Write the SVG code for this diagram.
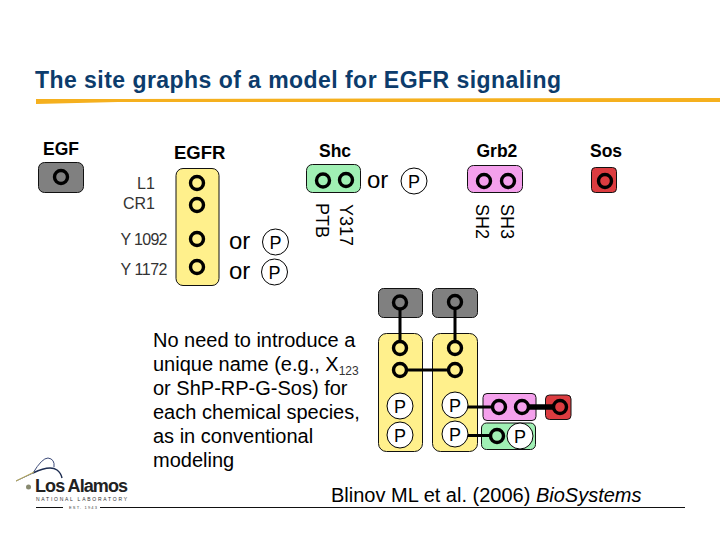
<svg xmlns="http://www.w3.org/2000/svg" width="720" height="540" viewBox="0 0 720 540">
<style>
text{font-family:"Liberation Sans",Arial,sans-serif;fill:#000}
.b{font-weight:bold;font-size:17.500px}
.l{font-size:16px;fill:#333}
.v{font-size:18px;fill:#000}
.or{font-size:24px}
.p{font-size:18px;text-anchor:middle}
.box{stroke:#111;stroke-width:1}
.y{fill:#fff08c}.g{fill:#808080}.gr{fill:#a0f0b4}.pk{fill:#f4a0ec}.r{fill:#dc3c40}
.s{fill:none;stroke:#000;stroke-width:3.400}
.pc{fill:#fff;stroke:#000;stroke-width:1}
.t{font-size:20px}
.c{stroke:#000;stroke-width:3;fill:none}
</style>
<defs>
<g id="p"><circle class="pc" r="13"/><text class="p" y="6.500">P</text></g>
</defs>
<g id="title">
<text x="35" y="88" font-weight="bold" font-size="23" style="fill:#0c3c6c" textLength="526">The site graphs of a model for EGFR signaling</text>
<path d="M36 99H118L720 98V102H118L36 104Z" fill="#f5b01e"/>
</g>
<g id="EGF"><text class="b" x="43" y="155">EGF</text><rect class="box g" x="38.500" y="162.500" width="45" height="30" rx="6"/><circle class="s" cx="61" cy="177" r="6.500"/></g>
<g id="EGFR"><text class="b" x="174" y="158.500" style="font-size:18.500px">EGFR</text><rect class="box y" x="176" y="168.500" width="43" height="117" rx="7"/>
<circle class="s" cx="197" cy="183" r="6.500"/><circle class="s" cx="197" cy="205" r="6.500"/><circle class="s" cx="197" cy="239" r="6.500"/><circle class="s" cx="197" cy="267" r="6.500"/>
<text class="l" x="137" y="189">L1</text><text class="l" x="123" y="209">CR1</text><text class="l" x="120.500" y="245" textLength="47">Y 1092</text><text class="l" x="120.500" y="275" textLength="47">Y 1172</text>
<text class="or" x="229" y="249">or</text><text class="or" x="229" y="279">or</text>
<use href="#p" x="275.500" y="242"/><use href="#p" x="274.500" y="272"/></g>
<g id="Shc"><text class="b" x="319" y="157">Shc</text><rect class="box gr" x="306.500" y="164.500" width="54" height="28" rx="6"/><circle class="s" cx="323" cy="180.500" r="6.500"/><circle class="s" cx="346" cy="180" r="6.500"/>
<text class="v" transform="translate(315.500 203) rotate(90)">PTB</text><text class="v" transform="translate(340 204) rotate(90)">Y317</text>
<text class="or" x="367" y="188">or</text><use href="#p" x="414" y="181"/></g>
<g id="Grb2"><text class="b" x="476.500" y="157">Grb2</text><rect class="box pk" x="467.500" y="165.500" width="55" height="27" rx="6"/><circle class="s" cx="484" cy="181" r="6.500"/><circle class="s" cx="508" cy="181" r="6.500"/>
<text class="v" transform="translate(475.500 204) rotate(90)">SH2</text><text class="v" transform="translate(501 204) rotate(90)">SH3</text></g>
<g id="Sos"><text class="b" x="590" y="157">Sos</text><rect class="box r" x="591.500" y="167.500" width="25" height="25" rx="4"/><circle class="s" cx="605" cy="181" r="6.500"/></g>
<g id="note"><text class="t" x="153" y="347">No need to introduce a</text><text class="t" x="153" y="371">unique name (e.g., X<tspan font-size="12" dy="4" style="fill:#333">123</tspan></text><text class="t" x="153" y="395">or ShP-RP-G-Sos) for</text><text class="t" x="153" y="419">each chemical species,</text><text class="t" x="153" y="443">as in conventional</text><text class="t" x="153" y="467">modeling</text></g>
<g id="complex-boxes">
<rect class="box g" x="378.500" y="288.500" width="44" height="29" rx="5"/><rect class="box g" x="432.500" y="288.500" width="45" height="29" rx="5"/>
<rect class="box y" x="378.500" y="333.500" width="44" height="118" rx="8"/><rect class="box y" x="432.500" y="333.500" width="45" height="118" rx="8"/>
<rect class="box pk" x="483" y="393.500" width="53" height="27" rx="4"/><rect class="box r" x="545.500" y="395" width="25.500" height="24.500" rx="4"/>
<rect class="box gr" x="481.500" y="423" width="54" height="26.500" rx="5"/></g>
<g id="connectors">
<path class="c" d="M400 302V348M455 302V348M400 370H455M467 407H499M467 435.500H497"/><path d="M522 407H560" stroke="#000" stroke-width="5.500"/></g>
<g id="complex-sites">
<circle class="s" cx="400" cy="302.500" r="6.500" style="fill:#808080"/><circle class="s" cx="455" cy="302" r="6.500" style="fill:#808080"/>
<circle class="s" cx="400" cy="348" r="6.500" style="fill:#fff08c"/><circle class="s" cx="455" cy="348" r="6.500" style="fill:#fff08c"/>
<circle class="s" cx="400" cy="370" r="6.500" style="fill:#fff08c"/><circle class="s" cx="455" cy="370" r="6.500" style="fill:#fff08c"/>
<use href="#p" x="400" y="406"/><use href="#p" x="400" y="435"/><use href="#p" x="455" y="405"/><use href="#p" x="455" y="434"/>
<circle class="s" cx="499" cy="407" r="6.500" style="fill:#f4a0ec"/><circle class="s" cx="522" cy="407" r="6.500" style="fill:#f4a0ec"/><circle class="s" cx="560" cy="407" r="6.500" style="fill:#dc3c40"/>
<circle class="s" cx="497" cy="436" r="6.500" style="fill:#a0f0b4"/><use href="#p" x="520" y="436"/></g>
<g id="citation"><text x="331" y="502" font-size="20">Blinov ML et al. (2006) <tspan font-style="italic">BioSystems</tspan></text>
<path d="M36 507.500H63M100 507.500H685" stroke="#111" stroke-width="1"/></g>
<g id="logo">
<path d="M16 481L33 473Q42 458 48 458Q55 459 54 467" fill="none" stroke="#3c4a78" stroke-width="1"/><path d="M33 473Q50 465 57 470Q61 473 62 478" fill="none" stroke="#1c2c50" stroke-width="1.500"/><path d="M16 481L34 472" stroke="#c8b860" stroke-width="1"/><circle cx="28.500" cy="487" r="2.500" fill="#888a70"/>
<text x="35" y="491.500" font-size="18" font-weight="bold" style="fill:#222" textLength="92" letter-spacing="-1">Los Alamos</text>
<text x="36" y="500.500" font-size="5" style="fill:#333" textLength="91">NATIONAL LABORATORY</text>
<text x="69" y="509" font-size="4" style="fill:#444" textLength="28">EST. 1943</text></g>
</svg>
